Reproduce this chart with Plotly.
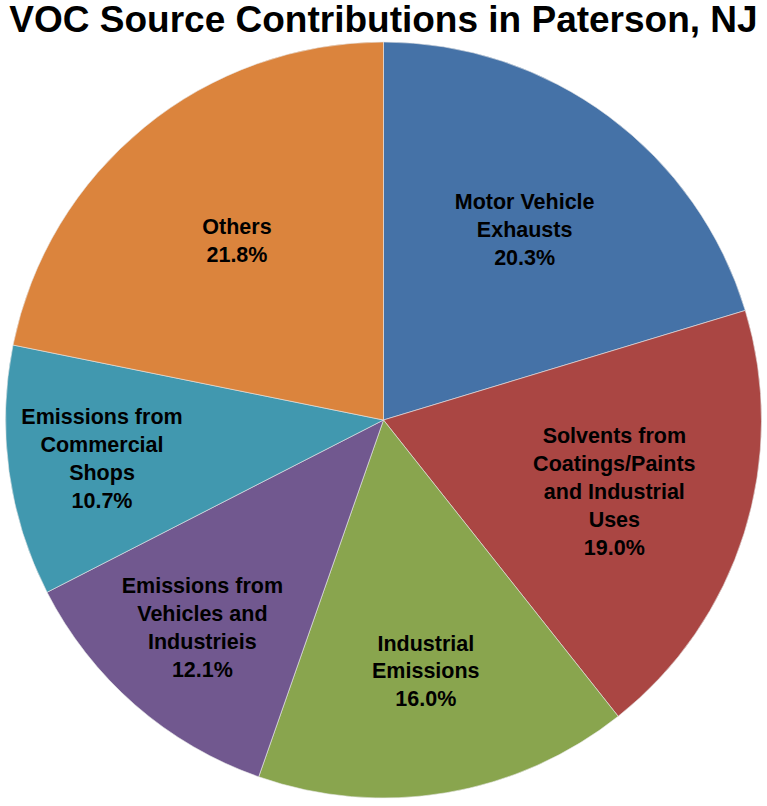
import plotly.graph_objects as go

sources = ["Motor Vehicle<br>Exhausts",
           "Solvents from<br>Coatings/Paints<br>and Industrial<br>Uses",
           "Industrial<br>Emissions",
           "Emissions from<br>Vehicles and<br>Industrieis",
           "Emissions from<br>Commercial<br>Shops",
           "Others"]
shares = [20.3, 19.0, 16.0, 12.1, 10.7, 21.8]
colors = ["#4572A7", "#AA4643", "#89A54E", "#71588F", "#4198AF", "#DB843D"]

fig = go.Figure(go.Pie(
    labels=sources, values=shares, sort=False, direction="clockwise", rotation=0,
    marker=dict(colors=colors, line=dict(color="#e8e8e8", width=0.6)),
    texttemplate="%{label}<br>%{value:.1f}%", textposition="inside",
    insidetextorientation="horizontal",
    textfont=dict(family="Liberation Sans", size=21.5, color="black", weight="bold"),
    hoverinfo="label+percent", showlegend=False,
    domain=dict(x=[0, 1], y=[8 / 806, 1 - 42 / 806]),
))

fig.update_layout(
    width=767, height=806,
    margin=dict(l=0, r=0, t=0, b=0),
    paper_bgcolor="white",
    uniformtext=dict(minsize=21.5, mode="show"),
    title=dict(text="<b>VOC Source Contributions in Paterson, NJ</b>", x=0.5, xanchor="center",
               y=1 - 19 / 806, yanchor="middle",
               font=dict(family="Liberation Sans", size=37, color="black")),
)

# the page body has an 8px default margin; drop it so the chart fills the window
fig.write_html("out.html", config={"displayModeBar": False},
               post_script="document.body.style.margin='0';")
